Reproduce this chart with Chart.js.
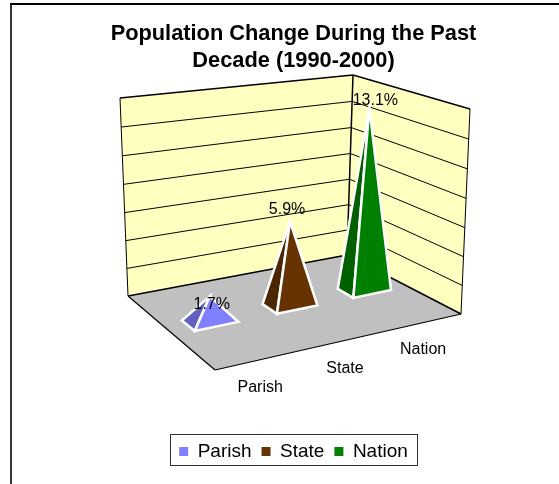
<!DOCTYPE html>
<html><head><meta charset="utf-8">
<style>html,body{margin:0;padding:0;background:#fff}canvas{display:block}</style>
<script src="https://cdn.jsdelivr.net/npm/chart.js@4"></script>
</head><body><canvas id="c" width="559" height="484"></canvas>
<script>
const categories = ["Parish", "State", "Nation"];
const values = [1.7, 5.9, 13.1];
const faceColors = ["#8080ff", "#663300", "#008000"];
const shadeColors = ["#6060bf", "#4c2600", "#006000"];
const titleLines = ["Population Change During the Past", "Decade (1990-2000)"];
const axisMax = 14, axisStep = 2;

// Box of the 3D view, screen corners: floor and wall tops
const floorQuad = [[215,370],[461,314],[347,255],[128,296]]; // front, right, back, left
const topQuad   = [[216,137],[470,109],[353,75],[120,98]];

function homography(q){
  const [[x0,y0],[x1,y1],[x2,y2],[x3,y3]] = q;
  const dx1=x1-x2, dx2=x3-x2, sx=x0-x1+x2-x3, dy1=y1-y2, dy2=y3-y2, sy=y0-y1+y2-y3;
  const den=dx1*dy2-dx2*dy1;
  const g=(sx*dy2-dx2*sy)/den, h=(dx1*sy-sx*dy1)/den;
  const a=x1-x0+g*x1, b=x3-x0+h*x3, d=y1-y0+g*y1, e=y3-y0+h*y3;
  return (u,w)=>{const k=g*u+h*w+1;return [(a*u+b*w+x0)/k,(d*u+e*w+y0)/k];};
}
const floorH = homography(floorQuad), topH = homography(topQuad);
function project(u,w,v){ // u along categories, w depth, v fraction of the axis
  const p=floorH(u,w), t=topH(u,w), f=v*0.97/(1+v*(0.97-1));
  return [p[0]+(t[0]-p[0])*f, p[1]+(t[1]-p[1])*f];
}
function poly(ctx,pts,fill,stroke,lw){
  ctx.beginPath();pts.forEach((p,i)=>i?ctx.lineTo(p[0],p[1]):ctx.moveTo(p[0],p[1]));ctx.closePath();
  if(fill){ctx.fillStyle=fill;ctx.fill();}
  if(stroke){ctx.strokeStyle=stroke;ctx.lineWidth=lw;ctx.lineJoin='miter';ctx.stroke();}
}
function seg(ctx,a,b,c,lw){ctx.beginPath();ctx.moveTo(a[0],a[1]);ctx.lineTo(b[0],b[1]);ctx.strokeStyle=c;ctx.lineWidth=lw;ctx.stroke();}

const labelNudge = [[2,8],[-3,-12],[6,-7]];
const catNudge = [[-18,14],[-20,15],[-22,15]];

const pyramid3d = {
  id:'pyramid3d',
  beforeDatasetsDraw(chart){
    const ctx=chart.ctx, y=chart.scales.y;
    ctx.save();
    // outer frame
    seg(ctx,[11,484],[11,3],'#333',2);
    seg(ctx,[10,4],[559,4],'#000',2);
    // walls
    poly(ctx,[project(0,1,0),project(1,1,0),project(1,1,1),project(0,1,1)],'#ffffc0');
    poly(ctx,[project(1,1,0),project(1,0,0),project(1,0,1),project(1,1,1)],'#ffffc0');
    poly(ctx,[project(0,0,0),project(1,0,0),project(1,1,0),project(0,1,0)],'#c0c0c0');
    // gridlines from the axis ticks
    y.ticks.forEach(t=>{
      const v=t.value/axisMax, lw=(t.value===0||t.value===axisMax)?1.5:1;
      seg(ctx,project(0,1,v),project(1,1,v),'#000',lw);
      seg(ctx,project(1,1,v),project(1,0,v),'#000',lw);
    });
    seg(ctx,project(0,1,0),project(0,1,1),'#000',1);
    seg(ctx,project(1,1,0),project(1,1,1),'#000',1.5);
    seg(ctx,project(1,0,0),project(1,0,1),'#000',1);
    seg(ctx,project(0,0,0),project(0,1,0),'#000',1.2);
    seg(ctx,project(0,0,0),project(1,0,0),'#000',1.2);
    // category labels
    ctx.fillStyle='#000';ctx.font='16px "Liberation Sans"';ctx.textAlign='center';ctx.textBaseline='middle';
    const x=chart.scales.x;
    categories.forEach((c,i)=>{
      const u=(x.getPixelForValue(i)-x.left)/x.width;
      const p=project(u,-0.16,0);
      ctx.fillText(c,p[0]+catNudge[i][0],p[1]+catNudge[i][1]);
    });
    ctx.restore();
  },
  beforeDatasetDraw(chart,args){
    const ctx=chart.ctx, x=chart.scales.x, y=chart.scales.y;
    const meta=args.meta;
    ctx.save();
    meta.data.forEach((bar,i)=>{
      const u=(bar.x-x.left)/x.width, hw=bar.width/x.width/2;
      const v=(y.bottom-bar.y)/y.height, hd=0.0725, wc=0.5;
      const front=project(u-hw,wc-hd,0), right=project(u+hw,wc-hd,0), left=project(u-hw,wc+hd,0);
      const apex=project(u,wc,v);
      poly(ctx,[left,front,apex],shadeColors[i],'#fff',2.5);
      poly(ctx,[front,right,apex],faceColors[i],'#fff',2.5);
      ctx.fillStyle='#000';ctx.font='16px "Liberation Sans"';ctx.textAlign='center';ctx.textBaseline='middle';
      ctx.fillText(values[i].toFixed(1)+'%',apex[0]+labelNudge[i][0],apex[1]+labelNudge[i][1]);
    });
    ctx.restore();
    return false;
  },
  afterDraw(chart){
    const ctx=chart.ctx;ctx.save();
    ctx.strokeStyle='#333';ctx.lineWidth=1;ctx.strokeRect(170.5,434.5,247,31);
    ctx.restore();
  }
};

new Chart(document.getElementById('c'),{
  type:'bar',
  data:{labels:categories,datasets:[{data:values,backgroundColor:faceColors,barPercentage:0.52,categoryPercentage:1}]},
  plugins:[pyramid3d],
  options:{
    responsive:false,animation:false,
    layout:{padding:{left:28,right:0,top:6,bottom:13}},
    scales:{
      x:{display:false,type:'category'},
      y:{display:false,min:0,max:axisMax,ticks:{stepSize:axisStep}}
    },
    plugins:{
      tooltip:{enabled:false},
      title:{display:true,text:titleLines,color:'#000',font:{family:'"Liberation Sans"',size:21.8,weight:'bold',lineHeight:1.24},padding:{top:14,bottom:4}},
      legend:{display:true,position:'bottom',onClick:null,
        labels:{boxWidth:9,boxHeight:9,color:'#000',padding:10,font:{family:'"Liberation Sans"',size:19},
          generateLabels:()=>categories.map((c,i)=>({text:c,fillStyle:faceColors[i],strokeStyle:faceColors[i],lineWidth:0,index:i,datasetIndex:0}))}
      }
    }
  }
});
</script></body></html>
